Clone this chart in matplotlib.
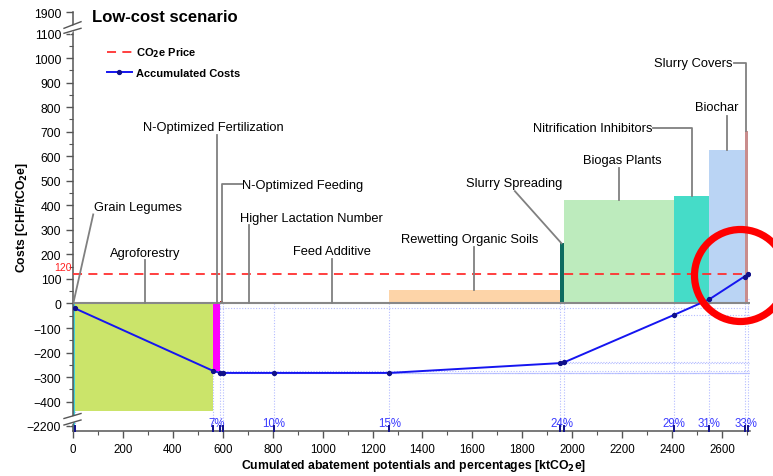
import numpy as np
import matplotlib
matplotlib.use("Agg")
import matplotlib.pyplot as plt
from matplotlib.patches import Ellipse, Polygon
from matplotlib.lines import Line2D
import matplotlib.transforms as mtrans
from matplotlib.ticker import FixedLocator

plt.rcParams['font.family'] = ['Liberation Sans', 'DejaVu Sans']

# ---------------- data ----------------
measures = ['Grain Legumes', 'Agroforestry', 'N-Optimized Fertilization',
            'N-Optimized Feeding', 'Higher Lactation Number', 'Feed Additive',
            'Rewetting Organic Soils', 'Slurry Spreading', 'Biogas Plants',
            'Nitrification Inhibitors', 'Biochar', 'Slurry Covers']
abatement = [8, 554, 28, 10, 204, 463, 684, 16, 442, 140, 141, 15]      # ktCO2e
cost = [-2500, -440, -275, 10, 5, 5, 55, 245, 420, 440, 625, 705]       # CHF/tCO2e
accum_cost = [-20, -275, -283, -283, -283, -283, -243, -240, -46, 17, 110, 120]
co2_price = 120
pct_labels = ['7%', '10%', '15%', '24%', '29%', '31%', '33%']
pct_x = [576, 804, 1267, 1959, 2409, 2549, 2697]
x_ticks = list(range(0, 2601, 200))
y_ticks = [-2200] + list(range(-400, 1101, 100)) + [1900]
colors = ['#3fd0d8', '#cbe46a', '#ff00ff', '#b22222', '#4cbb4c', '#6cb4e0',
          '#fdd4a8', '#0e6b60', '#bdebbd', '#45dcc8', '#bad4f4', '#c98d8d']

# ---------------- broken y scale ----------------
BV = np.array([-2600., -2200., -450., 1100., 1900.])
BP = -np.array([432.0, 426.7, 414.9, 34.6, 13.3])
S0 = (BP[1] - BP[0]) / (BV[1] - BV[0])
S1 = (BP[-1] - BP[-2]) / (BV[-1] - BV[-2])

def fwd(v):
    v = np.asarray(v, dtype=float)
    out = np.interp(v, BV, BP)
    out = np.where(v < BV[0], BP[0] + (v - BV[0]) * S0, out)
    out = np.where(v > BV[-1], BP[-1] + (v - BV[-1]) * S1, out)
    return out

def inv(p):
    p = np.asarray(p, dtype=float)
    out = np.interp(p, BP, BV)
    out = np.where(p < BP[0], BV[0] + (p - BP[0]) / S0, out)
    out = np.where(p > BP[-1], BV[-1] + (p - BP[-1]) / S1, out)
    return out

W, H = 773, 477
fig = plt.figure(figsize=(W / 100, H / 100), dpi=100)
ax = fig.add_axes([73 / W, 45 / H, (750 - 73) / W, (432 - 13.3) / H])
ax.set_yscale('function', functions=(fwd, inv))
XMAX = 2712
ax.set_xlim(0, XMAX)
ax.set_ylim(-2600, 1900)

lefts = np.concatenate([[0], np.cumsum(abatement)[:-1]])
rights = np.cumsum(abatement)

# guide lines (behind bars)
guide_c = '#b4bcff'
for bx, acc in zip(rights, accum_cost):
    ax.plot([bx, bx], [0, -2600], ls=(0, (1, 1.5)), color=guide_c, lw=0.8, zorder=1)
    ax.plot([bx, XMAX], [acc, acc], ls=(0, (1, 1.5)), color=guide_c, lw=0.8, zorder=1)

ax.bar(lefts, cost, width=abatement, align='edge', color=colors, zorder=2, lw=0)
ax.axhline(0, color='#888888', lw=1.5, zorder=3)
ax.axhline(co2_price, color='#ff3030', lw=1.3, ls=(0, (5, 3.5)), zorder=4)
ax.plot(rights, accum_cost, color='#1515f0', lw=1.4, marker='o', ms=2.8,
        mfc='#10108a', mec='#10108a', zorder=5)

ax.text(-4, co2_price + 8, str(co2_price), color='#ff2020', fontsize=7.5,
        ha='right', va='bottom', clip_on=False)

# percentage labels
btrans = mtrans.blended_transform_factory(ax.transData, ax.transAxes)
for lab, px in zip(pct_labels, pct_x):
    ax.text(px, 0.019, lab, transform=btrans, color='#3a3aff', fontsize=8.3,
            ha='center', va='center')
for bx in rights:
    ax.plot([bx, bx], [0, 0.012], transform=btrans, color='#10108a', lw=1.4,
            zorder=6, clip_on=False)

# annotations with leader lines
lc = '#808080'
afs = 9.3
ann = [
    ('Grain Legumes', 262, 392, 'center', [(81, 363), (1, 0)]),
    ('Agroforestry', 288, 205, 'center', [(288, 177), (288, 0)]),
    ('N-Optimized Fertilization', 562, 719, 'center', [(575, 686), (575, 0)]),
    ('N-Optimized Feeding', 677, 484, 'left', [(677, 485), (598, 485), (598, 8)]),
    ('Higher Lactation Number', 669, 350, 'left', [(705, 318), (705, 4)]),
    ('Feed Additive', 1037, 212, 'center', [(1036, 180), (1036, 4)]),
    ('Rewetting Organic Soils', 1590, 262, 'center', [(1607, 229), (1607, 55)]),
    ('Slurry Spreading', 1768, 490, 'center', [(1770, 458), (1957, 245)]),
    ('Biogas Plants', 2199, 583, 'center', [(2188, 552), (2188, 420)]),
    ('Nitrification Inhibitors', 2320, 717, 'right', [(2322, 717), (2480, 717), (2480, 440)]),
    ('Biochar', 2579, 800, 'center', [(2620, 763), (2620, 625)]),
    ('Slurry Covers', 2642, 980, 'right', [(2646, 980), (2694, 980), (2694, 705)]),
]
for txt, tx, ty, ha, path in ann:
    ax.text(tx, ty, txt, fontsize=afs, ha=ha, va='center', zorder=7)
    xs, ys = zip(*path)
    ax.plot(xs, ys, color=lc, lw=1.3, zorder=6)

# ticks
ax.yaxis.set_major_locator(FixedLocator(y_ticks))
ax.yaxis.set_minor_locator(FixedLocator(list(range(-350, 1100, 100))))
ax.set_yticklabels([f'{v}'.replace('-', '\u2212') for v in y_ticks])
ax.xaxis.set_major_locator(FixedLocator(x_ticks))
ax.xaxis.set_minor_locator(FixedLocator(list(range(100, 2701, 200))))
ax.set_xticklabels([str(v) for v in x_ticks])
ax.tick_params(axis='y', which='major', labelsize=8.8)
ax.tick_params(axis='x', which='major', labelsize=8.3)
ax.tick_params(axis='both', which='major', length=5, width=1.0,
               color='#555555', direction='out')
ax.tick_params(axis='both', which='minor', length=3, width=0.8, color='#555555',
               direction='out')

for s in ['top', 'right']:
    ax.spines[s].set_visible(False)
for s in ['left', 'bottom']:
    ax.spines[s].set_color('#555555')
    ax.spines[s].set_linewidth(1.1)

# axis break marks
for (ya, yb, za, zb) in [(29.3, 22.7, 34.3, 29.3), (419.5, 414.5, 426.0, 421.0)]:
    poly = Polygon([(70 / W, 1 - (ya - 1.5) / H), (78 / W, 1 - (yb + 1.5) / H),
                    (78 / W, 1 - (zb - 1.5) / H), (70 / W, 1 - (za + 1.5) / H)],
                   closed=True, transform=fig.transFigure, facecolor='white',
                   edgecolor='none', zorder=10)
    fig.patches.append(poly)
    fig.add_artist(Line2D([64 / W, 81 / W], [1 - ya / H, 1 - yb / H],
                          transform=fig.transFigure, color='#555555', lw=1.0, zorder=11))
    fig.add_artist(Line2D([64 / W, 81 / W], [1 - za / H, 1 - zb / H],
                          transform=fig.transFigure, color='#555555', lw=1.0, zorder=11))

# labels / title
fig.text(92 / W, 1 - 17 / H, 'Low-cost scenario', fontsize=12, fontweight='bold',
         ha='left', va='center')
fig.text(22 / W, 1 - 217 / H, 'Costs [CHF/tCO$_\\mathbf{2}$e]', fontsize=8.8,
         fontweight='bold', rotation=90, ha='center', va='center')
fig.text(414 / W, 1 - 466 / H,
         'Cumulated abatement potentials and percentages [ktCO$_\\mathbf{2}$e]',
         fontsize=8.8, fontweight='bold', ha='center', va='center')

# legend
handles = [Line2D([], [], color='#ff3030', lw=1.3, ls=(0, (5, 3.5))),
           Line2D([], [], color='#1515f0', lw=1.4, marker='o', ms=2.8,
                  mfc='#10108a', mec='#10108a')]
leg = fig.legend(handles, ['CO$_\\mathbf{2}$e Price', 'Accumulated Costs'],
                 loc='upper left', bbox_to_anchor=(100 / W, 1 - 40 / H),
                 frameon=False, prop={'weight': 'bold', 'size': 8},
                 handlelength=2.3, handletextpad=0.3, labelspacing=0.75,
                 borderpad=0.1)

# highlight circle
fig.patches.append(Ellipse((740.5 / W, 1 - 276.5 / H), 92 / W, 92 / H,
                           transform=fig.transFigure, fill=False,
                           edgecolor='#ff0000', lw=5.2, zorder=20))

fig.savefig('out.png', dpi=100)
